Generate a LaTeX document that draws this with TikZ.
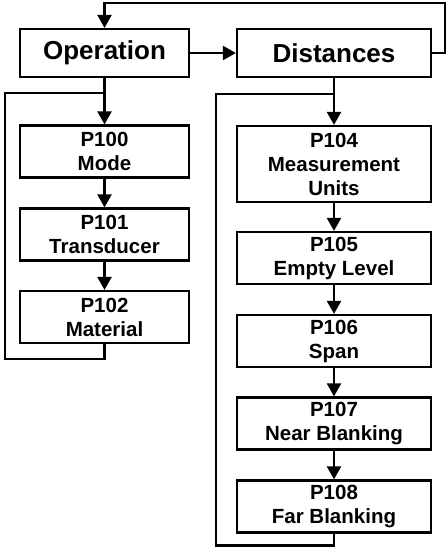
\documentclass[tikz,border=0pt]{standalone}
\usepackage{fontspec}
\setmainfont{Liberation Sans}
\usetikzlibrary{arrows.meta}
\begin{document}
\begin{tikzpicture}[x=1pt,y=-1pt,
  line width=2.2pt, line join=miter,
  head/.style={draw, line width=2.2pt, minimum width=169pt, minimum height=48pt, inner sep=0pt,
    font=\fontsize{26}{30}\selectfont\bfseries},
  leftbox/.style={draw, line width=2.2pt, minimum width=169pt, minimum height=52pt, inner sep=0pt, align=center,
    font=\fontsize{20.5}{24}\selectfont\bfseries},
  rightbox/.style={leftbox, minimum width=194pt},
  arr/.style={-{Triangle[length=13pt,width=14pt]}}]
\useasboundingbox (0,0) rectangle (447,547);
\node[head] (op) at (104.5,53) {Operation};
\node[head, minimum width=194pt] (dist) at (334,53) {Distances};
\node[leftbox] (p100) at (104.5,151.5) {P100\\Mode};
\node[leftbox] (p101) at (104.5,234.5) {P101\\Transducer};
\node[leftbox] (p102) at (104.5,317) {P102\\Material};
\node[rightbox, minimum height=76pt] (p104) at (334,164) {P104\\Measurement\\Units};
\node[rightbox] (p105) at (334,258) {P105\\Empty Level};
\node[rightbox] (p106) at (334,341) {P106\\Span};
\node[rightbox] (p107) at (334,423.5) {P107\\Near Blanking};
\node[rightbox] (p108) at (334,506.5) {P108\\Far Blanking};
\coordinate (tr) at (445,3);
\coordinate (lb) at (5,359);
\coordinate (lt) at (5,93);
\coordinate (rb) at (216,545.5);
\coordinate (rt) at (216,94);
\draw[arr] (dist.east) -| (tr) -| (op.north);
\draw[arr] (op.east) -- (dist.west);
\draw[arr] (op.south) -- (p100.north);
\draw[arr] (p100.south) -- (p101.north);
\draw[arr] (p101.south) -- (p102.north);
\draw (p102.south) |- (lb) |- (lt -| op.south);
\draw[arr] (dist.south) -- (p104.north);
\draw[arr] (p104.south) -- (p105.north);
\draw[arr] (p105.south) -- (p106.north);
\draw[arr] (p106.south) -- (p107.north);
\draw[arr] (p107.south) -- (p108.north);
\draw (p108.south) |- (rb) |- (rt -| dist.south);
\end{tikzpicture}
\end{document}
